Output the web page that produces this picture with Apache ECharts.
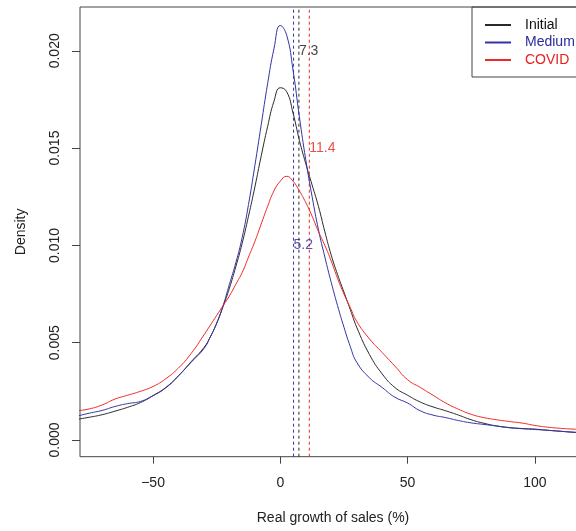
<!DOCTYPE html>
<html>
<head>
<meta charset="utf-8">
<script src="https://cdn.jsdelivr.net/npm/echarts@6/dist/echarts.min.js"></script>
<style>html,body{margin:0;padding:0;background:#fff}#c{width:576px;height:531px}</style>
</head>
<body>
<div id="c"></div>
<script>
var xs = [-80,-75,-70,-65,-60,-55,-50,-45,-40,-35,-30,-27.5,-25,-22.5,-20,-17.5,-15,-12.5,-10,-7.5,-5,-2.5,0,2.5,5,7.5,10,12.5,15,17.5,20,22.5,25,27.5,30,35,40,45,50,55,60,65,70,75,80,85,90,95,100,105,110,115,120];
var initialDensity = [0.00106,0.00117,0.00130,0.00148,0.00168,0.00192,0.00228,0.00270,0.00330,0.00403,0.00475,0.00530,0.00600,0.00685,0.00780,0.00890,0.01010,0.01150,0.01300,0.01460,0.01610,0.01740,0.01810,0.01790,0.01680,0.01540,0.01420,0.01310,0.01200,0.01070,0.00950,0.00850,0.00760,0.00670,0.00580,0.00440,0.00340,0.00270,0.00230,0.00195,0.00170,0.00150,0.00128,0.00104,0.00086,0.00072,0.00064,0.00059,0.00056,0.00050,0.00045,0.00040,0.00036];
var mediumDensity = [0.00122,0.00138,0.00152,0.00172,0.00187,0.00198,0.00228,0.00268,0.00330,0.00400,0.00470,0.00530,0.00600,0.00690,0.00800,0.00910,0.01040,0.01210,0.01410,0.01620,0.01830,0.02010,0.02130,0.02080,0.01900,0.01660,0.01440,0.01250,0.01080,0.00940,0.00810,0.00690,0.00580,0.00480,0.00400,0.00320,0.00270,0.00220,0.00190,0.00150,0.00128,0.00115,0.00100,0.00088,0.00080,0.00072,0.00063,0.00058,0.00054,0.00050,0.00045,0.00040,0.00037];
var covidDensity = [0.00150,0.00160,0.00180,0.00210,0.00230,0.00250,0.00275,0.00315,0.00370,0.00445,0.00540,0.00590,0.00640,0.00690,0.00740,0.00800,0.00860,0.00940,0.01020,0.01110,0.01200,0.01280,0.01330,0.01355,0.01330,0.01280,0.01220,0.01150,0.01070,0.01000,0.00920,0.00830,0.00750,0.00680,0.00610,0.00520,0.00450,0.00380,0.00310,0.00270,0.00230,0.00190,0.00158,0.00132,0.00115,0.00104,0.00095,0.00087,0.00075,0.00066,0.00060,0.00056,0.00053];
var seriesNames = ['Initial','Medium','COVID'];
var meanValues = [7.3, 5.2, 11.4];
var meanLabelY = [0.020, 0.010, 0.015];
var xTicks = [-50, 0, 50, 100];
var yTicks = [0, 0.005, 0.010, 0.015, 0.020];

var X_MIN = -78.7, X_MAX = 120.1, Y_MIN = -0.000858, Y_MAX = 0.02225;
var lineColors = ['#2a2a2a', '#3333a6', '#f02828'];
var textColors = ['#111111', '#2a2a9a', '#e82020'];
var FONT = 'Liberation Sans, Arial, sans-serif';

function pairs(ys){ return xs.map(function(x,i){ return [x, ys[i]]; }); }
var dens = [initialDensity, mediumDensity, covidDensity];

var series = [];
// dashed mean lines (drawn first, beneath curves)
meanValues.forEach(function(m, i){
  series.push({
    name: 'mean-' + seriesNames[i], type: 'line', silent: true, symbol: 'none', z: 2,
    data: [[m, Y_MIN], [m, Y_MAX]],
    lineStyle: {color: lineColors[i], width: 1, type: [3,3]}
  });
});
dens.forEach(function(d, i){
  series.push({
    name: seriesNames[i], type: 'line', data: pairs(d),
    symbol: 'none', smooth: 0.5, clip: true,
    lineStyle: {color: lineColors[i], width: 1},
    itemStyle: {color: lineColors[i]},
    z: 3
  });
});
series.push({
  name: 'means', type: 'scatter', symbolSize: 0, silent: true, z: 5,
  data: meanValues.map(function(m,i){
    return {value: [m, meanLabelY[i]], label: {color: textColors[i]}};
  }),
  label: {show: true, position: 'right', distance: 0, fontSize: 14, fontFamily: FONT,
    formatter: function(p){ return p.value[0].toFixed(1); }}
});

var chart = echarts.init(document.getElementById('c'), null, {renderer: 'canvas'});
chart.setOption({
  animation: false,
  backgroundColor: '#ffffff',
  grid: {left: 80, top: 7, width: 506, height: 449.7, outerBoundsMode: 'none', containLabel: false,
    show: true, borderColor: '#444', borderWidth: 1, backgroundColor: 'transparent'},
  legend: {
    data: seriesNames.map(function(n,i){ return {name: n, textStyle: {color: textColors[i]}}; }),
    orient: 'vertical', left: 472, top: 7,
    itemWidth: 26, itemHeight: 14, itemGap: 3.5,
    padding: [11, 20, 10, 12],
    borderColor: '#444', borderWidth: 1, borderRadius: 0,
    itemStyle: {opacity: 0},
    textStyle: {fontSize: 14, fontFamily: FONT, padding: [0,0,0,9]}
  },
  xAxis: {
    type: 'value', min: X_MIN, max: X_MAX,
    name: 'Real growth of sales (%)', nameLocation: 'middle', nameGap: 54,
    nameTextStyle: {fontSize: 14, fontFamily: FONT, color: '#222'},
    axisLine: {show: false, onZero: false},
    axisTick: {show: true, length: 7, lineStyle: {color: '#444'}, customValues: xTicks},
    axisLabel: {fontSize: 14, fontFamily: FONT, color: '#222', margin: 19, customValues: xTicks,
      formatter: function(v){ return String(v).replace('-', '\u2212'); }},
    splitLine: {show: false}
  },
  yAxis: {
    type: 'value', min: Y_MIN, max: Y_MAX,
    name: 'Density', nameLocation: 'middle', nameGap: 52, nameRotate: 90,
    nameTextStyle: {fontSize: 14, fontFamily: FONT, color: '#222'},
    axisLine: {show: false, onZero: false},
    axisTick: {show: true, length: 8, lineStyle: {color: '#444'}, customValues: yTicks},
    axisLabel: {fontSize: 14, fontFamily: FONT, color: '#222', margin: 18, rotate: 90, customValues: yTicks,
      formatter: function(v){ return v.toFixed(3); }},
    splitLine: {show: false}
  },
  series: series
});
</script>
</body>
</html>
